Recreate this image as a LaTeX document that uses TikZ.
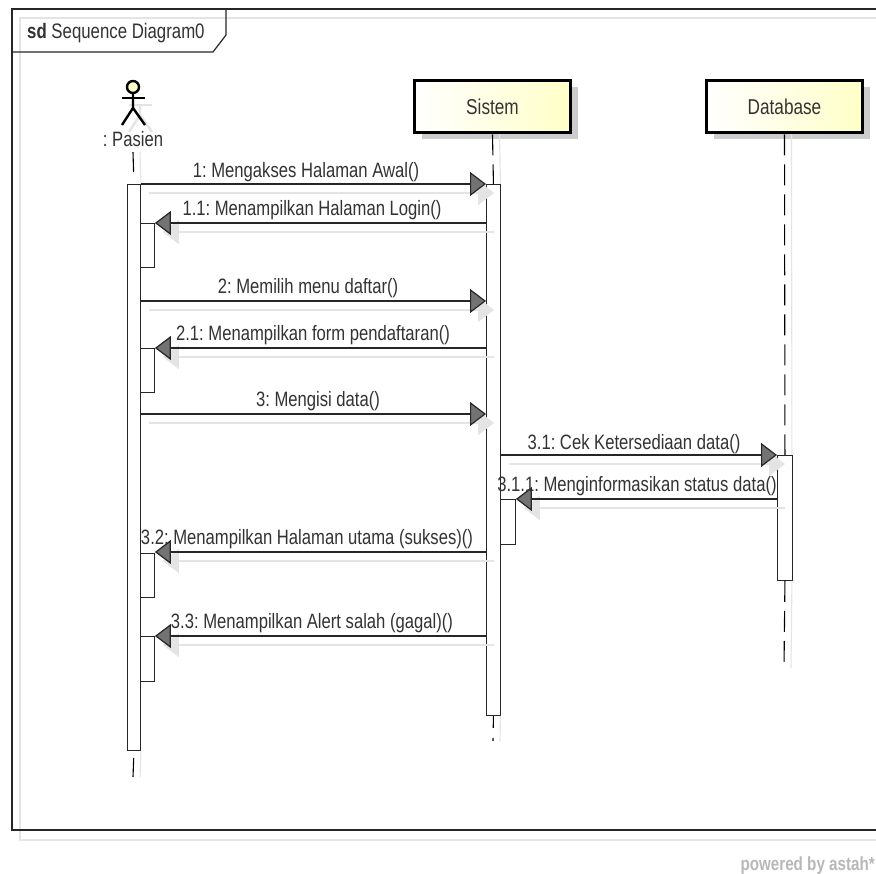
\documentclass[tikz,border=0pt]{standalone}
\usepackage{fontspec}
\setmainfont{Liberation Sans}[FakeStretch=0.8]
\usepackage{xcolor}
\usetikzlibrary{arrows.meta}
\usetikzlibrary{shadows}
\definecolor{boxyellow}{HTML}{FFFFC8}
\definecolor{softline}{HTML}{E4E4E4}
\definecolor{inktext}{HTML}{333333}
\tikzset{
  lifebox/.style={draw=black,line width=3.6pt,left color=white,right color=boxyellow,
    minimum width=156pt,minimum height=52pt,inner sep=0pt,text=inktext,font=\fontsize{21.5}{26}\selectfont,
    drop shadow={shadow xshift=7pt,shadow yshift=-7pt,fill=black!20,opacity=1}},
  actbar/.style={draw=black!85,line width=.9pt,fill=white,inner sep=0pt},
  lifeline/.style={draw=black,line width=1.1pt,dash pattern=on 21pt off 9pt},
  lifeshadow/.style={draw=softline,line width=1.1pt,transform canvas={shift={(7pt,0pt)}}},
  msg/.style={draw=black!85,line width=1.3pt,-{Triangle[length=16pt,width=24pt,fill=black!55,line width=1.2pt]}},
  msgshadow/.style={draw=softline,line width=1.3pt,-{Triangle[length=16pt,width=24pt,fill=softline]},
    transform canvas={shift={(8pt,-9pt)}}},
  msglabel/.style={inner sep=0pt,text=inktext,font=\fontsize{20.8}{25}\selectfont},
}
\newcommand{\msgline}[2]{%
  \draw[msgshadow] (#1) -- (#2);
  \draw[msg] (#1) -- (#2);}
\frenchspacing
\begin{document}
\begin{tikzpicture}[x=1pt,y=-1pt]
  \useasboundingbox (0,0) rectangle (876,874);
  \path[fill=white] (0,0) rectangle (876,874);
  % frame
  \draw[softline,line width=1.2pt] (876,18) -- (20,18) -- (20,840) -- (876,840);
  \draw[black!85,line width=1.2pt] (876,9) -- (12,9) -- (12,830) -- (876,830);
  \draw[black!85,line width=1.2pt] (226,9) -- (226,35) -- (213,52) -- (12,52);
  \node[anchor=west,inner sep=0pt,text=inktext,font=\fontsize{21}{25}\selectfont] (frametitle) at (27,33) {\textbf{sd} Sequence Diagram0};
  % actor
  \begin{scope}[shift={(7,7)},softline,line width=2.4pt]
    \draw (122,98) -- (145,98);
    \draw (133,98) -- (133,108) -- (122,125);
    \draw (133,108) -- (145,125);
  \end{scope}
  \path[draw=black,line width=2.4pt,fill=boxyellow] (133,87) circle (6);
  \draw[black,line width=2.4pt] (122,98) -- (145,98);
  \draw[black,line width=2.4pt] (133,93) -- (133,108) -- (122,125);
  \draw[black,line width=2.4pt] (133,108) -- (145,125);
  \node[msglabel,minimum height=26pt] (pasien) at (133,139) {: Pasien};
  % lifelines heads
  \node[lifebox] (sistem) at (492.5,106.5) {Sistem};
  \node[lifebox] (database) at (784.5,106.5) {Database};
  % activations
  \node[actbar,anchor=north west,minimum width=13pt,minimum height=566pt] (actP) at (127,184) {};
  \node[actbar,anchor=north west,minimum width=14pt,minimum height=531pt] (actS) at (486,184) {};
  \node[actbar,anchor=north west,minimum width=15pt,minimum height=125pt] (actD) at (777,455) {};
  \node[actbar,anchor=north west,minimum width=14pt,minimum height=44pt] (act11) at (140,223) {};
  \node[actbar,anchor=north west,minimum width=14pt,minimum height=44pt] (act21) at (140,348) {};
  \node[actbar,anchor=north west,minimum width=15pt,minimum height=45pt] (act311) at (500,499) {};
  \node[actbar,anchor=north west,minimum width=14pt,minimum height=44pt] (act32) at (140,553) {};
  \node[actbar,anchor=north west,minimum width=14pt,minimum height=45pt] (act33) at (140,636) {};
  \coordinate (endP) at (133,777);
  \coordinate (endS) at (493,741);
  \coordinate (endD) at (784,668);
  \draw[lifeshadow] (pasien.south) -- (actP.north);
  \draw[lifeshadow] (actP.south) -- (endP);
  \draw[lifeshadow] (sistem.south) -- (actS.north);
  \draw[lifeshadow] (actS.south) -- (endS);
  \draw[lifeshadow] (database.south) -- (actD.north);
  \draw[lifeshadow] (actD.south) -- (endD);
  \draw[lifeline,dash pattern=on 20pt off 12pt] (pasien.south) -- (actP.north);
  \draw[lifeline,dash pattern=on 0pt off 7pt on 20pt off 9pt] (actP.south) -- (endP);
  \draw[lifeline] (sistem.south) -- (actS.north);
  \draw[lifeline,dash pattern=on 12pt off 10pt] (actS.south) -- (endS);
  \draw[lifeline] (database.south) -- (actD.north);
  \draw[lifeline] (actD.south) -- (endD);
  % messages
  \coordinate (m1a) at (actP.east |- 0,184);
  \coordinate (m1b) at (actS.west |- 0,184);
  \coordinate (m11a) at (actS.west |- 0,223);
  \coordinate (m11b) at (act11.east |- 0,223);
  \coordinate (m2a) at (actP.east |- 0,301);
  \coordinate (m2b) at (actS.west |- 0,301);
  \coordinate (m21a) at (actS.west |- 0,348);
  \coordinate (m21b) at (act21.east |- 0,348);
  \coordinate (m3a) at (actP.east |- 0,414);
  \coordinate (m3b) at (actS.west |- 0,414);
  \coordinate (m31a) at (actS.east |- 0,455);
  \coordinate (m31b) at (actD.west |- 0,455);
  \coordinate (m311a) at (actD.west |- 0,499);
  \coordinate (m311b) at (act311.east |- 0,499);
  \coordinate (m32a) at (actS.west |- 0,552);
  \coordinate (m32b) at (act32.east |- 0,552);
  \coordinate (m33a) at (actS.west |- 0,636);
  \coordinate (m33b) at (act33.east |- 0,636);
  \msgline{m1a}{m1b}
  \msgline{m11a}{m11b}
  \msgline{m2a}{m2b}
  \msgline{m21a}{m21b}
  \msgline{m3a}{m3b}
  \msgline{m31a}{m31b}
  \msgline{m311a}{m311b}
  \msgline{m32a}{m32b}
  \msgline{m33a}{m33b}
  % labels
  \node[msglabel] (l1) at (306,172) {1: Mengakses Halaman Awal()};
  \node[msglabel] (l11) at (312,210) {1.1: Menampilkan Halaman Login()};
  \node[msglabel] (l2) at (308,288) {2: Memilih menu daftar()};
  \node[msglabel] (l21) at (313,335) {2.1: Menampilkan form pendaftaran()};
  \node[msglabel] (l3) at (318,401) {3: Mengisi data()};
  \node[msglabel] (l31) at (634,444) {3.1: Cek Ketersediaan data()};
  \node[msglabel] (l311) at (637,486) {3.1.1: Menginformasikan status data()};
  \node[msglabel] (l32) at (307,539) {3.2: Menampilkan Halaman utama (sukses)()};
  \node[msglabel] (l33) at (312,623) {3.3: Menampilkan Alert salah (gagal)()};
  \node[anchor=east,inner sep=0pt,text=black!28,font=\fontsize{19}{23}\selectfont\bfseries] (powered) at (875,866) {powered by astah*};
\end{tikzpicture}
\end{document}
